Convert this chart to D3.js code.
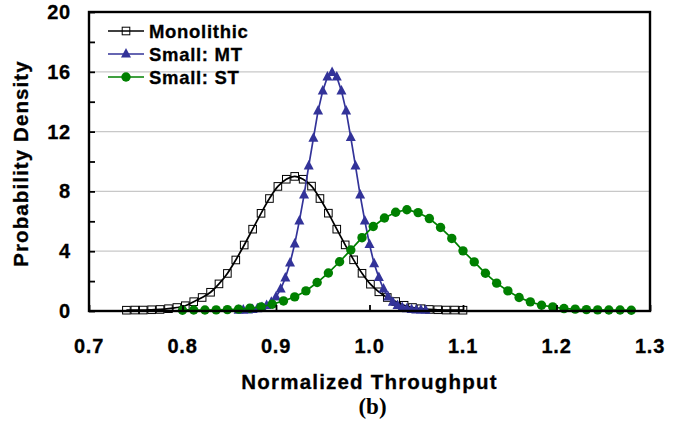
<!DOCTYPE html>
<html>
<head>
<meta charset="utf-8">
<script src="https://cdn.jsdelivr.net/npm/d3@7"></script>
<style>
  body { margin: 0; background: #fff; }
  text { font-family: Arial, 'Liberation Sans', sans-serif; font-weight: bold; }
</style>
</head>
<body>
<div id="chart"></div>
<script>
// x positions of each series (41 samples each)
const monoX = d3.range(41).map(i => +(0.74 + i * 0.009).toFixed(3));
const mtX = d3.range(41).map(i => +(0.86 + i * 0.005).toFixed(3));
const stX = d3.range(41).map(i => +(0.80 + i * 0.012).toFixed(3));

// densities
const monoY = [0.0, 0.01, 0.01, 0.03, 0.05, 0.1, 0.18, 0.3, 0.57, 0.85,
  1.2, 1.76, 2.46, 3.36, 4.36, 5.42, 6.48, 7.47, 8.28, 8.76,
  8.95, 8.76, 8.3, 7.47, 6.49, 5.42, 4.37, 3.37, 2.47, 1.74,
  1.23, 0.85, 0.58, 0.33, 0.18, 0.1, 0.05, 0.03, 0.01, 0.01, 0.0];
const mtY = [0.0, 0.01, 0.02, 0.05, 0.1, 0.18, 0.32, 0.54, 0.89, 1.41,
  2.15, 3.15, 4.42, 5.97, 7.7, 9.65, 11.5, 13.33, 14.67, 15.6,
  15.9, 15.6, 14.67, 13.33, 11.55, 9.65, 7.7, 5.97, 4.4, 3.1,
  2.19, 1.41, 0.89, 0.54, 0.32, 0.18, 0.1, 0.05, 0.02, 0.01, 0.0];
const stY = [0.0, 0.01, 0.01, 0.02, 0.04, 0.07, 0.13, 0.22, 0.4, 0.62,
  0.89, 1.29, 1.85, 2.49, 3.24, 4.03, 4.85, 5.6, 6.17, 6.55,
  6.72, 6.53, 6.13, 5.53, 4.8, 3.97, 3.23, 2.47, 1.81, 1.29,
  0.85, 0.56, 0.33, 0.22, 0.11, 0.07, 0.04, 0.02, 0.01, 0.01, 0.0];

const seriesNames = ['Monolithic', 'Small: MT', 'Small: ST'];
const xTicks = [0.7, 0.8, 0.9, 1.0, 1.1, 1.2, 1.3];
const yTicks = [0, 4, 8, 12, 16, 20];
const yMinor = [2, 6, 10, 14, 18];

// set the dimensions and margins of the graph
const margin = { top: 12, right: 37, bottom: 112, left: 89 };
const width = 687 - margin.left - margin.right;
const height = 423 - margin.top - margin.bottom;

const xScale = d3.scaleLinear().domain([0.7, 1.3]).range([0, width]);
const yScale = d3.scaleLinear().domain([0, 20]).range([height, 0]);

const root = d3
  .select('#chart')
  .append('svg')
  .attr('width', 687)
  .attr('height', 423);

const svg = root
  .append('g')
  .attr('transform', `translate(${margin.left},${margin.top})`);

// gridlines
svg
  .selectAll('.grid')
  .data(yTicks.filter(d => d > 0 && d < 20))
  .enter()
  .append('line')
  .attr('x1', 0)
  .attr('x2', width)
  .attr('y1', d => yScale(d))
  .attr('y2', d => yScale(d))
  .style('stroke', '#c8c8c8')
  .style('stroke-width', 1.2);

// data series
const series = [
  { name: seriesNames[0], xs: monoX, ys: monoY, color: '#000', marker: 'square', curve: d3.curveCatmullRom },
  { name: seriesNames[1], xs: mtX, ys: mtY, color: '#333399', marker: 'triangle', curve: d3.curveLinear },
  { name: seriesNames[2], xs: stX, ys: stY, color: '#008000', marker: 'circle', curve: d3.curveLinear },
];

function drawMarker(g, s, x, y) {
  if (s.marker === 'square') {
    g.append('rect')
      .attr('x', x - 3.8)
      .attr('y', y - 3.8)
      .attr('width', 7.6)
      .attr('height', 7.6)
      .style('fill', 'none')
      .style('stroke', '#000')
      .style('stroke-width', 1);
  } else if (s.marker === 'triangle') {
    g.append('path')
      .attr('d', `M${x},${y - 6}L${x + 5},${y + 3.5}L${x - 5},${y + 3.5}Z`)
      .style('fill', s.color);
  } else {
    g.append('circle')
      .attr('cx', x)
      .attr('cy', y)
      .attr('r', 4.7)
      .style('fill', s.color);
  }
}

series.forEach((s) => {
  const data = s.xs.map((x, i) => ({ x, y: s.ys[i] }));
  const line = d3
    .line()
    .curve(s.curve)
    .x(d => xScale(d.x))
    .y(d => yScale(d.y) - 0.8);
  const g = svg.append('g');
  g.append('path')
    .datum(data)
    .attr('d', line)
    .style('fill', 'none')
    .style('stroke', s.color)
    .style('stroke-width', 1.7);
  data.forEach(d => drawMarker(g, s, xScale(d.x), yScale(d.y) - 0.8));
});

// frame
svg
  .append('rect')
  .attr('width', width)
  .attr('height', height)
  .style('fill', 'none')
  .style('stroke', '#000')
  .style('stroke-width', 2.4);

// Y axis, ticks inside
const yAxis = svg
  .append('g')
  .call(d3.axisRight(yScale).tickValues(yTicks.concat(yMinor)).tickSize(6).tickFormat(''));
yAxis.select('.domain').remove();
yAxis.selectAll('line').style('stroke-width', 1.8);

svg
  .selectAll('.ylab')
  .data(yTicks)
  .enter()
  .append('text')
  .attr('x', -18)
  .attr('y', d => yScale(d) + 7)
  .attr('text-anchor', 'end')
  .style('font-size', '20px')
  .style('letter-spacing', '0.8px')
  .style('stroke', '#000')
  .style('stroke-width', 0.3)
  .text(d => d);

// X axis, ticks inside
const xAxis = svg
  .append('g')
  .attr('transform', `translate(0,${height})`)
  .call(d3.axisTop(xScale).tickValues(xTicks).tickSize(6).tickFormat(''));
xAxis.select('.domain').remove();
xAxis.selectAll('line').style('stroke-width', 1.8);

svg
  .selectAll('.xlab')
  .data(xTicks)
  .enter()
  .append('text')
  .attr('x', d => xScale(d))
  .attr('y', height + 42)
  .attr('text-anchor', 'middle')
  .style('font-size', '20px')
  .style('letter-spacing', '0.8px')
  .style('stroke', '#000')
  .style('stroke-width', 0.3)
  .text(d => d.toFixed(1));

// axis titles
svg
  .append('text')
  .attr('x', width / 2)
  .attr('y', height + 78)
  .attr('text-anchor', 'middle')
  .style('font-size', '20.5px')
  .style('letter-spacing', '1.2px')
  .style('stroke', '#000')
  .style('stroke-width', 0.3)
  .text('Normalized Throughput');

svg
  .append('text')
  .attr('transform', `translate(${-61},${height / 2 + 2}) rotate(-90)`)
  .attr('text-anchor', 'middle')
  .style('font-size', '20.5px')
  .style('letter-spacing', '1.1px')
  .style('stroke', '#000')
  .style('stroke-width', 0.3)
  .text('Probability Density');

svg
  .append('text')
  .attr('x', width / 2 + 3)
  .attr('y', height + 103)
  .attr('text-anchor', 'middle')
  .style('font-family', "'Liberation Serif', 'Times New Roman', serif")
  .style('font-size', '23px')
  .text('(b)');

// legend
const legend = svg
  .selectAll('.legend')
  .data(series)
  .enter()
  .append('g')
  .attr('transform', (d, i) => `translate(19,${19 + i * 23})`);

legend
  .append('line')
  .attr('x1', 0)
  .attr('x2', 36)
  .style('stroke', d => d.color)
  .style('stroke-width', 1.7);

legend.each(function (d) {
  drawMarker(d3.select(this), d, 18, 0);
});

legend
  .append('text')
  .attr('x', 41)
  .attr('y', 6.5)
  .style('font-size', '18.5px')
  .style('letter-spacing', '0.7px')
  .style('stroke', '#000')
  .style('stroke-width', 0.3)
  .text(d => d.name);
</script>
</body>
</html>
